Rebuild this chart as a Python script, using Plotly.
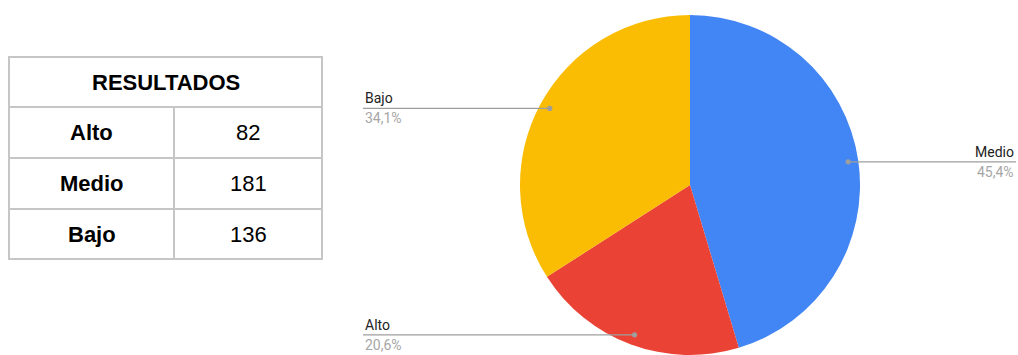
import math
import plotly.graph_objects as go

# ---- data ----
table_title = "RESULTADOS"
categories = ["Alto", "Medio", "Bajo"]
values = [82, 181, 136]

# pie order (clockwise from 12 o'clock)
pie_labels = ["Medio", "Alto", "Bajo"]
pie_values = [181, 82, 136]
pie_colors = ["#4285F4", "#EA4335", "#FBBC04"]

W, H = 1018, 355

def px(x):
    return x / W

def py(y):
    return 1 - y / H

fig = go.Figure()

# ---- pie ----
cx, cy, R = 690, 185, 170
fig.add_trace(go.Pie(
    labels=pie_labels, values=pie_values, sort=False, direction="clockwise",
    rotation=0, textinfo="none", hoverinfo="label+percent",
    marker=dict(colors=pie_colors, line=dict(width=0)),
    domain=dict(x=[px(cx - R), px(cx + R)], y=[py(cy + R), py(cy - R)]),
    showlegend=False,
))

shapes = []
annotations = []

# ---- pie leader labels ----
total = sum(pie_values)
cum = 0
line_col = "#9e9e9e"
lfont = "Roboto, Arial"
for lab, v in zip(pie_labels, pie_values):
    mid = (cum + v / 2) / total * 2 * math.pi
    cum += v
    dx = math.sin(mid) * R * 0.94
    dy = -math.cos(mid) * R * 0.94
    dotx, doty = cx + dx, cy + dy
    pct = f"{v / total * 100:.1f}%".replace(".", ",")
    if dx >= 0:
        xend, anchor = 1016, "right"
    else:
        xend, anchor = 363, "left"
    shapes.append(dict(type="line", xref="paper", yref="paper",
                       x0=px(dotx), x1=px(xend), y0=py(doty), y1=py(doty),
                       line=dict(color=line_col, width=1.3)))
    shapes.append(dict(type="circle", xref="paper", yref="paper",
                       x0=px(dotx - 2.6), x1=px(dotx + 2.6),
                       y0=py(doty + 2.6), y1=py(doty - 2.6),
                       fillcolor=line_col, line=dict(width=0)))
    annotations.append(dict(xref="paper", yref="paper", x=px(xend), y=py(doty - 10),
                            text=lab, showarrow=False, xanchor=anchor, yanchor="middle",
                            font=dict(family=lfont, size=14, color="#222222")))
    annotations.append(dict(xref="paper", yref="paper", x=px(xend), y=py(doty + 10),
                            text=pct, showarrow=False, xanchor=anchor, yanchor="middle",
                            font=dict(family=lfont, size=14, color="#a6a6a6")))

# ---- table ----
tl, tr, tt = 9, 322, 57
tc = 174
row_edges = [57, 107, 158, 209, 259]
tcol = "#c6c6c6"
tw = 2
shapes.append(dict(type="rect", xref="paper", yref="paper",
                   x0=px(tl), x1=px(tr), y0=py(row_edges[0]), y1=py(row_edges[-1]),
                   line=dict(color=tcol, width=tw)))
for ye in row_edges[1:-1]:
    shapes.append(dict(type="line", xref="paper", yref="paper",
                       x0=px(tl), x1=px(tr), y0=py(ye), y1=py(ye),
                       line=dict(color=tcol, width=tw)))
shapes.append(dict(type="line", xref="paper", yref="paper",
                   x0=px(tc), x1=px(tc), y0=py(row_edges[1]), y1=py(row_edges[-1]),
                   line=dict(color=tcol, width=tw)))

fnt = "Liberation Sans, Arial"
annotations.append(dict(xref="paper", yref="paper", x=px((tl + tr) / 2),
                        y=py((row_edges[0] + row_edges[1]) / 2), text=f"<b>{table_title}</b>",
                        xanchor="center", yanchor="middle",
                        showarrow=False, font=dict(family=fnt, size=22, color="#000000")))
for i, (c, v) in enumerate(zip(categories, values)):
    yc = (row_edges[i + 1] + row_edges[i + 2]) / 2
    annotations.append(dict(xref="paper", yref="paper", x=px((tl + tc) / 2), y=py(yc),
                            text=f"<b>{c}</b>", showarrow=False,
                            xanchor="center", yanchor="middle",
                            font=dict(family=fnt, size=22, color="#000000")))
    annotations.append(dict(xref="paper", yref="paper", x=px((tc + tr) / 2), y=py(yc),
                            text=str(v), showarrow=False,
                            xanchor="center", yanchor="middle",
                            font=dict(family=fnt, size=22, color="#000000")))

fig.update_layout(
    width=W, height=H, margin=dict(l=0, r=0, t=0, b=0),
    paper_bgcolor="white", plot_bgcolor="white",
    shapes=shapes, annotations=annotations,
)

fig.write_html("out.html")
